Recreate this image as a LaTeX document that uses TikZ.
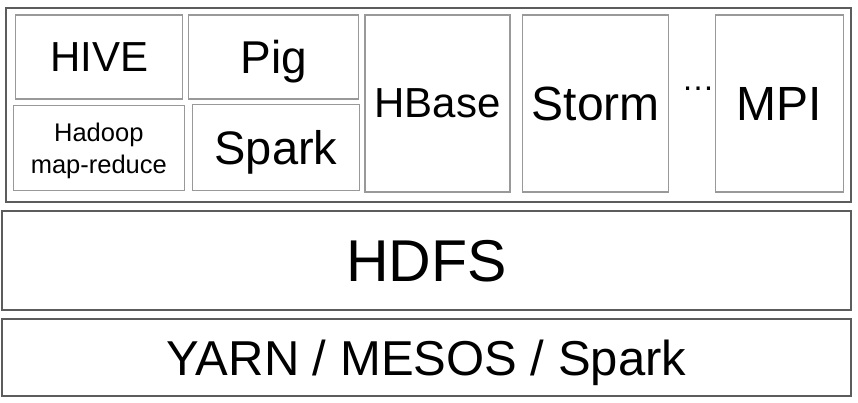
\documentclass[tikz,border=0pt]{standalone}
\usepackage{fontspec}
\setmainfont{Liberation Sans}

\definecolor{framegray}{rgb}{0.36, 0.36, 0.36}
\definecolor{boxgray}{rgb}{0.6, 0.6, 0.6}

\begin{document}
\begin{tikzpicture}[x=1pt,y=1pt,yscale=-1,xscale=1,
		layer/.style={draw=framegray, line width=1.6pt, inner sep=0pt, text depth=0pt},
		tool/.style={draw=boxgray, line width=1.3pt, inner sep=0pt, text depth=0pt, align=center}]
		% Set diagram size to 858 x 403
		\path[fill=white, use as bounding box] (0,0) rectangle (858,403);

		% The outer frame round the tools
		\node (apps) [layer, minimum width=845, minimum height=194] at (428.5,105) {};

		% The tools in the left column
		\node (hive) [tool, minimum width=167, minimum height=84, font=\fontsize{42}{50}\selectfont] at (99.2,57) {HIVE};
		\node (hadoop) [tool, minimum width=171, minimum height=85, font=\fontsize{25.5}{31.6}\selectfont] at (98.8,148.3) {Hadoop\\map-reduce};

		% The tools in the second column
		\node (pig) [tool, minimum width=170, minimum height=84, font=\fontsize{46}{55}\selectfont] at (273.8,57) {Pig};
		\node (spark) [tool, minimum width=167, minimum height=86, font=\fontsize{47}{56}\selectfont] at (276,147.8) {Spark};

		% The tall tools on the right
		\node (hbase) [tool, minimum width=145, minimum height=177, font=\fontsize{42}{50}\selectfont] at (437.5,103.5) {HBase};
		\node (storm) [tool, minimum width=146, minimum height=177, font=\fontsize{48}{57}\selectfont] at (595.7,103.5) {Storm};
		\node (dots) [anchor=base, inner sep=0pt, font=\fontsize{33}{40}\selectfont] at (698,90.5) {…};
		\node (mpi) [tool, minimum width=128, minimum height=177, font=\fontsize{48}{57}\selectfont] at (779.5,103.5) {MPI};

		% The storage and scheduler layers
		\node (hdfs) [layer, minimum width=849, minimum height=99, font=\fontsize{59}{70}\selectfont] at (426.5,260.5) {HDFS};
		\node (yarn) [layer, minimum width=849, minimum height=77, font=\fontsize{49}{58}\selectfont] at (426.5,357.5) {YARN / MESOS / Spark};
	\end{tikzpicture}
\end{document}
